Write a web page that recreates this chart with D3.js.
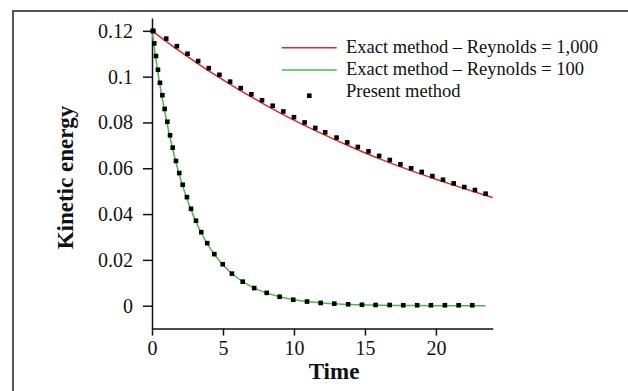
<!DOCTYPE html>
<html>
<head>
    <meta charset="UTF-8">
    <script src="https://d3js.org/d3.v7.min.js"></script>
    <style>
        body { margin: 0; background: #fff; }
        svg text { font-family: "Liberation Serif", "DejaVu Serif", serif; fill: #111; }
    </style>
</head>
<body>
    <svg id="chart"></svg>

    <script>
// DATA
    var exact1000T = [0, 2, 4, 6, 8, 10, 12, 14, 16, 18, 20, 22, 24];
    var exact1000V = [0.1200, 0.1109, 0.1025, 0.0948, 0.0876, 0.0810, 0.0750, 0.0694, 0.0642, 0.0595, 0.0552, 0.0511, 0.0472];

    var exact100T = [0, 0.5, 1, 1.5, 2, 2.5, 3, 3.5, 4, 5, 6, 7, 8, 9, 10, 12, 14, 16, 18, 20, 23.5];
    var exact100V = [0.1200, 0.0985, 0.0815, 0.0672, 0.0555, 0.0460, 0.0380, 0.0314, 0.0260, 0.0178, 0.0122, 0.0083, 0.0057, 0.0039, 0.0026, 0.0012, 0.0005, 0.0002, 0.0001, 0.0000, 0.0000];

    var present1000T = [0.1, 1.0, 1.75, 2.5, 3.25, 4.0, 4.75, 5.5, 6.25, 7.0, 7.75, 8.5, 9.25, 10.0, 10.75, 11.5,
                        12.2, 13.0, 13.75, 14.5, 15.25, 16.0, 16.75, 17.5, 18.25, 19.0, 19.75, 20.5, 21.25, 22.0, 22.75, 23.5];
    var present1000V = [0.1199, 0.1166, 0.1133, 0.1100, 0.1068, 0.1037, 0.1008, 0.0978, 0.0950, 0.0923, 0.0897, 0.0873, 0.0848, 0.0823, 0.0800, 0.0776,
                        0.0757, 0.0734, 0.0713, 0.0693, 0.0674, 0.0654, 0.0636, 0.0617, 0.0600, 0.0584, 0.0566, 0.0550, 0.0534, 0.0518, 0.0505, 0.0489];

    var present100T = [0.05, 0.16, 0.28, 0.42, 0.56, 0.73, 0.89, 1.08, 1.27, 1.46, 1.69, 1.92, 2.16, 2.46, 2.75, 3.10, 3.47, 3.89, 4.39, 4.98,
                       5.63, 6.39, 7.20, 8.08, 8.99, 9.95, 10.92, 11.88, 12.84, 13.82, 14.79, 15.75, 16.74, 17.70, 18.68, 19.65, 20.63, 21.60, 22.56];
    var present100V = [0.1200, 0.1145, 0.1090, 0.1030, 0.0973, 0.0919, 0.0859, 0.0803, 0.0744, 0.0690, 0.0632, 0.0579, 0.0528, 0.0474, 0.0423, 0.0371, 0.0321, 0.0273, 0.0225, 0.0181,
                       0.0140, 0.0105, 0.0077, 0.0056, 0.0039, 0.0026, 0.0018, 0.0012, 0.0009, 0.0006, 0.0004, 0.0003, 0.0003, 0.0002, 0.0002, 0.0002, 0.0002, 0.0002, 0.0002];

    var xTicks = [0, 5, 10, 15, 20];
    var yTicks = [0, 0.02, 0.04, 0.06, 0.08, 0.1, 0.12];
    var yTickLabels = ["0", "0.02", "0.04", "0.06", "0.08", "0.1", "0.12"];

    var legendLabels = ["Exact method \u2013 Reynolds = 1,000", "Exact method \u2013 Reynolds = 100", "Present method"];

// SETUP
    var width = 628,
        height = 391;

    var red = "#e3262b",
        green = "#4db848";

    var svg = d3.select("#chart")
                .attr("width", width)
                .attr("height", height);

    // frame that runs off the right and bottom edges
    svg.append("rect")
        .attr("x", 13)
        .attr("y", 11)
        .attr("width", 640)
        .attr("height", 400)
        .attr("fill", "none")
        .attr("stroke", "#555")
        .attr("stroke-width", 2);

    var x = d3.scaleLinear()
                .domain([0, 24])
                .range([152, 492.7]);

    var y = d3.scaleLinear()
                .domain([-0.01, 0.1256])
                .range([328.6, 18]);

// AXES
    var yAxis = svg.append("g")
                    .attr("transform", "translate(152,0)")
                    .call(d3.axisLeft(y)
                            .tickValues(yTicks)
                            .tickSize(9)
                            .tickSizeOuter(0)
                            .tickPadding(10)
                            .tickFormat((d, i) => yTickLabels[i]));

    var xAxis = svg.append("g")
                    .attr("transform", "translate(0,328.6)")
                    .call(d3.axisBottom(x)
                            .tickValues(xTicks)
                            .tickSize(7)
                            .tickSizeOuter(0)
                            .tickPadding(5)
                            .tickFormat(d3.format("d")));

    svg.selectAll(".domain, .tick line")
        .attr("stroke", "#111")
        .attr("stroke-width", 1.5);

    svg.selectAll(".tick text")
        .style("font-family", "Liberation Serif")
        .style("font-size", "20px")
        .attr("fill", "#111");

    svg.append("text")
        .attr("transform", "translate(73,177.5)rotate(-90)")
        .attr("text-anchor", "middle")
        .style("font-size", "23px")
        .style("font-weight", "bold")
        .text("Kinetic energy");

    svg.append("text")
        .attr("x", 334)
        .attr("y", 379)
        .attr("text-anchor", "middle")
        .style("font-size", "23px")
        .style("font-weight", "bold")
        .text("Time");

// LINES
    var line = d3.line()
                .x(d => x(d[0]))
                .y(d => y(d[1]))
                .curve(d3.curveMonotoneX);

    svg.append("path")
        .attr("d", line(d3.zip(exact1000T, exact1000V)))
        .attr("fill", "none")
        .attr("stroke", red)
        .attr("stroke-width", 1.5);

    svg.append("path")
        .attr("d", line(d3.zip(exact100T, exact100V)))
        .attr("fill", "none")
        .attr("stroke", green)
        .attr("stroke-width", 1.5);

// MARKERS
    var s = 4.6;
    var pts = d3.zip(present1000T, present1000V).concat(d3.zip(present100T, present100V));
    svg.append("g")
        .selectAll("rect")
        .data(pts)
        .enter()
        .append("rect")
        .attr("x", d => x(d[0]) - s / 2)
        .attr("y", d => y(d[1]) - s / 2)
        .attr("width", s)
        .attr("height", s)
        .attr("fill", "#000");

// LEGEND
    var legend = svg.append("g");
    var rowY = [52.5, 74.7, 96.9];

    legend.append("line")
        .attr("x1", 281.7).attr("x2", 336.7)
        .attr("y1", rowY[0] - 4.8).attr("y2", rowY[0] - 4.8)
        .attr("stroke", red).attr("stroke-width", 1.5);

    legend.append("line")
        .attr("x1", 281.7).attr("x2", 336.7)
        .attr("y1", rowY[1] - 4.8).attr("y2", rowY[1] - 4.8)
        .attr("stroke", green).attr("stroke-width", 1.5);

    legend.append("rect")
        .attr("x", 309.3 - s / 2)
        .attr("y", rowY[2] - 1.2 - s / 2)
        .attr("width", s)
        .attr("height", s)
        .attr("fill", "#000");

    legend.selectAll("text")
        .data(legendLabels)
        .enter()
        .append("text")
        .attr("x", 346)
        .attr("y", (d, i) => rowY[i])
        .style("font-size", "18.5px")
        .text(d => d);
    </script>
</body>
</html>
